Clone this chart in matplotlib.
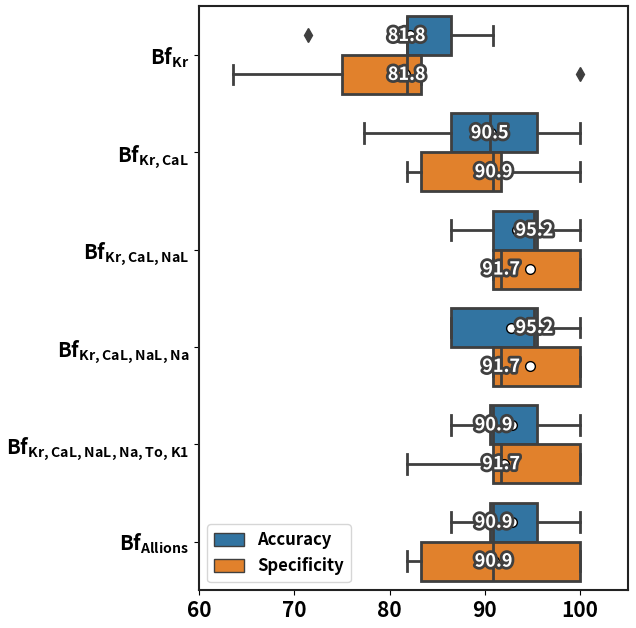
import numpy as np
import matplotlib
matplotlib.use("Agg")
import matplotlib.pyplot as plt
import matplotlib.patheffects as pe
from matplotlib.patches import Patch

plt.rcParams['font.family'] = ['Noto Sans CJK KR', 'DejaVu Sans']
plt.rcParams['font.weight'] = 'bold'
plt.rcParams['mathtext.fontset'] = 'custom'
plt.rcParams['mathtext.bf'] = 'Noto Sans CJK KR:bold'
plt.rcParams['mathtext.rm'] = 'Noto Sans CJK KR:bold'

categories = [r'$\mathbf{Bf}_{\mathbf{Kr}}$',
              r'$\mathbf{Bf}_{\mathbf{Kr,CaL}}$',
              r'$\mathbf{Bf}_{\mathbf{Kr,CaL,NaL}}$',
              r'$\mathbf{Bf}_{\mathbf{Kr,CaL,NaL,Na}}$',
              r'$\mathbf{Bf}_{\mathbf{Kr,CaL,NaL,Na,To,K1}}$',
              r'$\mathbf{Bf}_{\mathbf{Allions}}$']

# Accuracy box stats
acc_whislo = [81.8, 77.3, 86.4, 86.4, 86.4, 86.4]
acc_q1 = [81.8, 86.4, 90.9, 86.4, 90.5, 90.5]
acc_med = [81.8, 90.5, 95.2, 95.2, 90.9, 90.9]
acc_q3 = [86.4, 95.5, 95.5, 95.5, 95.5, 95.5]
acc_whishi = [90.9, 100, 100, 100, 100, 100]
acc_mean = [82.1, 90.6, 93.4, 92.7, 92.8, 92.8]
acc_fliers = [[71.4], [], [], [], [], []]

# Specificity box stats
spec_whislo = [63.6, 81.8, 90.9, 90.9, 81.8, 81.8]
spec_q1 = [75.0, 83.3, 90.9, 90.9, 90.9, 83.3]
spec_med = [81.8, 90.9, 91.7, 91.7, 91.7, 90.9]
spec_q3 = [83.3, 91.7, 100, 100, 100, 100]
spec_whishi = [83.3, 100, 100, 100, 100, 100]
spec_mean = [81.6, 90.7, 94.7, 94.7, 92.0, 91.0]
spec_fliers = [[100], [], [], [], [], []]

colors = ['#3274a1', '#e1812c']
edge = '#3f3f3f'


def make_stats(lo, q1, med, q3, hi, mean, fl):
    return [dict(whislo=lo[i], q1=q1[i], med=med[i], q3=q3[i], whishi=hi[i],
                 mean=mean[i], fliers=fl[i]) for i in range(len(lo))]


acc_stats = make_stats(acc_whislo, acc_q1, acc_med, acc_q3, acc_whishi, acc_mean, acc_fliers)
spec_stats = make_stats(spec_whislo, spec_q1, spec_med, spec_q3, spec_whishi, spec_mean, spec_fliers)

fig, ax = plt.subplots(figsize=(6.36, 6.28), dpi=100)
pos = np.arange(len(categories))

for stats, off, col in [(acc_stats, -0.2, colors[0]), (spec_stats, 0.2, colors[1])]:
    ax.bxp(stats, positions=pos + off, widths=0.4, vert=False, patch_artist=True,
           showmeans=True,
           boxprops=dict(facecolor=col, edgecolor=edge, linewidth=2),
           medianprops=dict(color=edge, linewidth=2),
           whiskerprops=dict(color=edge, linewidth=2),
           capprops=dict(color=edge, linewidth=2),
           flierprops=dict(marker='d', markerfacecolor=edge, markeredgecolor=edge, markersize=7),
           meanprops=dict(marker='o', markerfacecolor='white', markeredgecolor='black', markersize=7))

stroke = [pe.withStroke(linewidth=4, foreground='#404040')]
for meds, off in [(acc_med, -0.2), (spec_med, 0.2)]:
    for i, m in enumerate(meds):
        ax.text(m, i + off, f'{m:.1f}', ha='center', va='center', color='white',
                fontsize=13, fontweight='bold', path_effects=stroke, zorder=10)

ax.set_xlim(60, 105)
ax.set_ylim(len(categories) - 0.5, -0.5)
ax.set_yticks(pos)
ax.set_yticklabels(categories, fontsize=14.5)
ax.set_xticks([60, 70, 80, 90, 100])
ax.set_xticklabels(['60', '70', '80', '90', '100'], fontsize=15, fontweight='bold')
for s in ax.spines.values():
    s.set_linewidth(1.5)
    s.set_color('#222222')

handles = [Patch(facecolor=colors[0], edgecolor=edge, label='Accuracy'),
           Patch(facecolor=colors[1], edgecolor=edge, label='Specificity')]
ax.legend(handles=handles, loc='lower left', prop=dict(size=12, weight='bold'),
          handlelength=1.8, handleheight=0.85)

plt.subplots_adjust(left=0.313, right=0.987, top=0.99, bottom=0.06)
plt.savefig('out.png', dpi=100)
